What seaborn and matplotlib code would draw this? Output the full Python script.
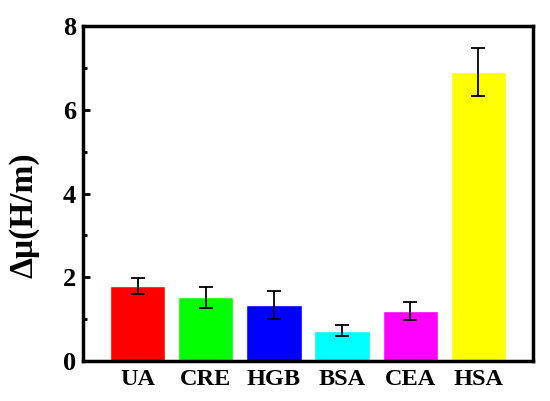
import numpy as np
import pandas as pd
import matplotlib
matplotlib.use('Agg')
import matplotlib.pyplot as plt
import seaborn as sns
from matplotlib.ticker import MultipleLocator

# values
samples = ['UA', 'CRE', 'HGB', 'BSA', 'CEA', 'HSA']
delta_mu = [1.80, 1.52, 1.34, 0.72, 1.19, 6.90]
errors = [0.19, 0.25, 0.33, 0.13, 0.21, 0.57]
bar_colors = ['#ff0000', '#00ff00', '#0000ff', '#00ffff', '#ff00ff', '#ffff00']

df = pd.DataFrame({'sample': samples, 'dmu': delta_mu, 'err': errors})

sns.set_style('ticks')
plt.rcParams['font.family'] = ['Liberation Serif', 'DejaVu Serif']
plt.rcParams['font.weight'] = 'bold'
plt.rcParams['text.color'] = 'black'
plt.rcParams['axes.labelcolor'] = 'black'
plt.rcParams['xtick.color'] = 'black'
plt.rcParams['ytick.color'] = 'black'

fig = plt.figure(figsize=(5.5, 4.01), dpi=100)
ax = fig.add_axes([0.151, 0.0998, 0.818, 0.8352])

sns.barplot(data=df, x='sample', y='dmu', hue='sample', palette=bar_colors,
            width=0.81, errorbar=None, legend=False, saturation=1, ax=ax)
ax.errorbar(x=np.arange(len(samples)), y=df['dmu'], yerr=df['err'], fmt='none',
            ecolor='black', elinewidth=1.3, capsize=5, capthick=1.3)

ax.set_xlim(-0.8, 5.8)
ax.set_ylim(0, 8)
ax.yaxis.set_major_locator(MultipleLocator(2))
ax.yaxis.set_minor_locator(MultipleLocator(1))
ax.tick_params(axis='y', which='major', direction='in', length=5, width=2, labelsize=19, pad=5)
ax.tick_params(axis='y', which='minor', direction='in', length=3, width=2)
ax.tick_params(axis='x', length=0, labelsize=17.5, pad=6)
for lab in ax.get_xticklabels() + ax.get_yticklabels():
    lab.set_fontweight('bold')

for sp in ax.spines.values():
    sp.set_visible(True)
    sp.set_linewidth(2.5)
    sp.set_color('black')

ax.set_xlabel('')
ax.set_ylabel('Δμ(H/m)', fontsize=24, fontweight='bold')
ax.yaxis.set_label_coords(-0.096, 0.436)

fig.savefig('out.png', dpi=100)
